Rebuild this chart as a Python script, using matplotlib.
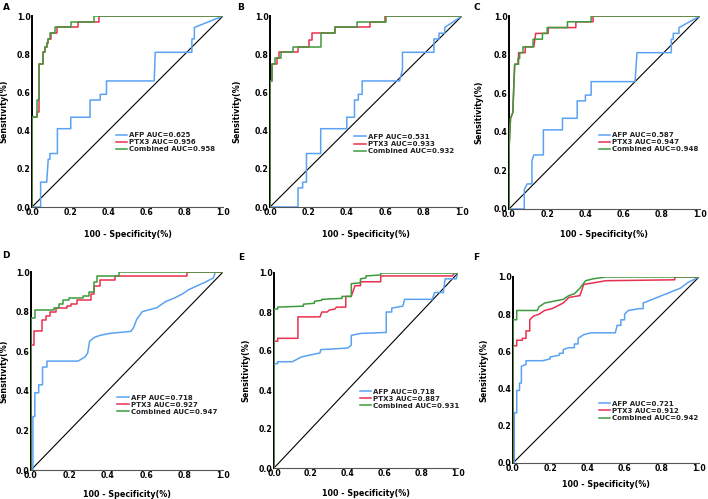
import matplotlib
matplotlib.use("Agg")
import matplotlib.pyplot as plt

plt.rcParams['font.family'] = ['DejaVu Sans']
plt.rcParams['font.weight'] = 'bold'

panel_letters = ["A", "B", "C", "D", "E", "F"]
series_names = ["AFP", "PTX3", "Combined"]
auc_A = [0.625, 0.956, 0.958]
auc_B = [0.531, 0.933, 0.932]
auc_C = [0.587, 0.947, 0.948]
auc_D = [0.718, 0.927, 0.947]
auc_E = [0.718, 0.887, 0.931]
auc_F = [0.721, 0.912, 0.942]
ticks = [0.0, 0.2, 0.4, 0.6, 0.8, 1.0]
tick_labels = ["0.0", "0.2", "0.4", "0.6", "0.8", "1.0"]

# ---------- Panel A ----------
afp_A_x = [0, 0.045, 0.045, 0.077, 0.085, 0.094, 0.094, 0.133, 0.133, 0.203, 0.203, 0.304, 0.304, 0.357, 0.357, 0.39, 0.39, 0.64, 0.645, 0.837, 0.837, 0.85, 0.85, 1.0]
afp_A_y = [0, 0, 0.13, 0.13, 0.25, 0.25, 0.28, 0.28, 0.41, 0.41, 0.47, 0.47, 0.56, 0.56, 0.59, 0.59, 0.66, 0.66, 0.81, 0.81, 0.88, 0.88, 0.94, 1.0]
ptx_A_x = [0, 0, 0.028, 0.028, 0.035, 0.035, 0.038, 0.038, 0.056, 0.056, 0.07, 0.07, 0.077, 0.077, 0.085, 0.085, 0.1, 0.1, 0.13, 0.13, 0.24, 0.24, 0.35, 0.35, 1.0]
ptx_A_y = [0, 0.47, 0.47, 0.5, 0.5, 0.56, 0.56, 0.75, 0.75, 0.81, 0.81, 0.84, 0.84, 0.86, 0.86, 0.88, 0.88, 0.91, 0.91, 0.94, 0.94, 0.97, 0.97, 1.0, 1.0]
com_A_x = [0, 0, 0.024, 0.024, 0.028, 0.028, 0.035, 0.035, 0.056, 0.056, 0.068, 0.068, 0.077, 0.077, 0.085, 0.085, 0.094, 0.094, 0.12, 0.12, 0.203, 0.203, 0.325, 0.325, 1.0]
com_A_y = [0, 0.47, 0.47, 0.5, 0.5, 0.56, 0.56, 0.75, 0.75, 0.81, 0.81, 0.84, 0.84, 0.86, 0.86, 0.88, 0.88, 0.91, 0.91, 0.94, 0.94, 0.97, 0.97, 1.0, 1.0]

# ---------- Panel B ----------
afp_B_x = [0, 0.146, 0.146, 0.17, 0.17, 0.19, 0.19, 0.264, 0.264, 0.40, 0.40, 0.44, 0.44, 0.46, 0.46, 0.48, 0.48, 0.675, 0.69, 0.69, 0.854, 0.854, 0.88, 0.88, 0.91, 0.91, 1.0]
afp_B_y = [0, 0, 0.1, 0.1, 0.13, 0.13, 0.28, 0.28, 0.41, 0.41, 0.47, 0.47, 0.56, 0.56, 0.59, 0.59, 0.66, 0.66, 0.72, 0.81, 0.81, 0.88, 0.88, 0.91, 0.91, 0.94, 1.0]
ptx_B_x = [0, 0, 0.01, 0.01, 0.035, 0.035, 0.045, 0.045, 0.145, 0.145, 0.205, 0.205, 0.22, 0.22, 0.337, 0.337, 0.52, 0.52, 0.6, 0.6, 1.0]
ptx_B_y = [0, 0.66, 0.66, 0.75, 0.75, 0.78, 0.78, 0.81, 0.81, 0.84, 0.84, 0.875, 0.875, 0.91, 0.91, 0.94, 0.94, 0.97, 0.97, 1.0, 1.0]
com_B_x = [0, 0, 0.01, 0.01, 0.024, 0.024, 0.055, 0.055, 0.12, 0.12, 0.264, 0.264, 0.337, 0.337, 0.455, 0.455, 0.604, 0.604, 1.0]
com_B_y = [0, 0.66, 0.66, 0.75, 0.75, 0.78, 0.78, 0.81, 0.81, 0.84, 0.84, 0.91, 0.91, 0.94, 0.94, 0.97, 0.97, 1.0, 1.0]

# ---------- Panel C ----------
afp_C_x = [0, 0.08, 0.08, 0.095, 0.12, 0.12, 0.13, 0.18, 0.18, 0.28, 0.28, 0.357, 0.357, 0.40, 0.40, 0.43, 0.43, 0.66, 0.67, 0.85, 0.85, 0.86, 0.86, 0.89, 0.89, 1.0]
afp_C_y = [0, 0, 0.1, 0.13, 0.13, 0.25, 0.28, 0.28, 0.41, 0.41, 0.47, 0.47, 0.56, 0.56, 0.59, 0.59, 0.66, 0.66, 0.81, 0.81, 0.88, 0.88, 0.91, 0.91, 0.94, 1.0]
ptx_C_x = [0, 0, 0.008, 0.02, 0.026, 0.03, 0.05, 0.05, 0.085, 0.085, 0.13, 0.14, 0.205, 0.205, 0.35, 0.35, 0.44, 0.44, 1.0]
ptx_C_y = [0, 0.31, 0.47, 0.5, 0.66, 0.75, 0.75, 0.81, 0.81, 0.84, 0.84, 0.91, 0.91, 0.94, 0.94, 0.97, 0.97, 1.0, 1.0]
com_C_x = [0, 0, 0.008, 0.02, 0.026, 0.03, 0.047, 0.047, 0.056, 0.056, 0.073, 0.073, 0.126, 0.126, 0.175, 0.175, 0.2, 0.2, 0.306, 0.306, 0.43, 0.43, 1.0]
com_C_y = [0, 0.31, 0.47, 0.5, 0.66, 0.75, 0.75, 0.78, 0.78, 0.81, 0.81, 0.84, 0.84, 0.88, 0.88, 0.91, 0.91, 0.94, 0.94, 0.97, 0.97, 1.0, 1.0]

# ---------- Panel D ----------
afp_D_x = [0, 0.01, 0.01, 0.02, 0.02, 0.04, 0.04, 0.06, 0.06, 0.083, 0.083, 0.245, 0.28, 0.295, 0.305, 0.33, 0.36, 0.41, 0.52, 0.535, 0.55, 0.58, 0.656, 0.7, 0.75, 0.79, 0.82, 0.865, 0.91, 0.95, 0.96, 1.0]
afp_D_y = [0, 0, 0.27, 0.27, 0.39, 0.39, 0.43, 0.43, 0.52, 0.52, 0.55, 0.55, 0.57, 0.59, 0.65, 0.67, 0.68, 0.69, 0.70, 0.72, 0.76, 0.80, 0.82, 0.85, 0.87, 0.89, 0.91, 0.93, 0.95, 0.97, 1.0, 1.0]
ptx_D_x = [0, 0, 0.015, 0.015, 0.057, 0.057, 0.08, 0.08, 0.1, 0.1, 0.13, 0.13, 0.19, 0.19, 0.21, 0.21, 0.24, 0.24, 0.31, 0.31, 0.33, 0.33, 0.36, 0.36, 0.44, 0.44, 0.81, 0.81, 1.0]
ptx_D_y = [0, 0.63, 0.63, 0.70, 0.70, 0.76, 0.76, 0.78, 0.78, 0.8, 0.8, 0.82, 0.82, 0.83, 0.83, 0.84, 0.84, 0.86, 0.86, 0.89, 0.89, 0.93, 0.93, 0.96, 0.96, 0.98, 0.98, 1.0, 1.0]
com_D_x = [0, 0, 0.02, 0.02, 0.12, 0.12, 0.145, 0.145, 0.167, 0.167, 0.2, 0.2, 0.27, 0.27, 0.3, 0.3, 0.33, 0.33, 0.345, 0.345, 0.457, 0.457, 1.0]
com_D_y = [0, 0.77, 0.77, 0.81, 0.81, 0.82, 0.82, 0.84, 0.84, 0.86, 0.86, 0.87, 0.87, 0.88, 0.88, 0.9, 0.9, 0.95, 0.95, 0.98, 0.98, 1.0, 1.0]

# ---------- Panel E ----------
afp_E_x = [0, 0, 0.02, 0.02, 0.1, 0.15, 0.2, 0.25, 0.254, 0.4, 0.42, 0.42, 0.47, 0.6, 0.61, 0.61, 0.64, 0.64, 0.7, 0.71, 0.86, 0.873, 0.92, 0.93, 0.99, 1.0]
afp_E_y = [0, 0.535, 0.535, 0.545, 0.545, 0.57, 0.58, 0.59, 0.607, 0.615, 0.63, 0.68, 0.69, 0.695, 0.695, 0.80, 0.80, 0.82, 0.83, 0.865, 0.865, 0.9, 0.9, 0.97, 0.97, 1.0]
ptx_E_x = [0, 0, 0.02, 0.02, 0.13, 0.13, 0.25, 0.26, 0.29, 0.3, 0.33, 0.34, 0.39, 0.39, 0.42, 0.44, 0.47, 0.47, 0.58, 0.58, 0.97, 0.98, 1.0]
ptx_E_y = [0, 0.65, 0.65, 0.665, 0.665, 0.775, 0.775, 0.8, 0.8, 0.81, 0.815, 0.825, 0.825, 0.88, 0.88, 0.935, 0.935, 0.955, 0.955, 0.985, 0.985, 1.0, 1.0]
com_E_x = [0, 0, 0.02, 0.02, 0.16, 0.16, 0.22, 0.22, 0.26, 0.26, 0.37, 0.37, 0.42, 0.42, 0.47, 0.47, 0.5, 0.5, 0.58, 0.58, 1.0]
com_E_y = [0, 0.815, 0.815, 0.825, 0.83, 0.84, 0.845, 0.855, 0.86, 0.865, 0.87, 0.88, 0.88, 0.945, 0.95, 0.97, 0.975, 0.985, 0.99, 1.0, 1.0]

# ---------- Panel F ----------
afp_F_x = [0, 0.007, 0.007, 0.02, 0.02, 0.035, 0.035, 0.045, 0.045, 0.07, 0.07, 0.16, 0.2, 0.2, 0.25, 0.25, 0.27, 0.27, 0.3, 0.33, 0.33, 0.35, 0.35, 0.38, 0.42, 0.55, 0.56, 0.58, 0.58, 0.6, 0.6, 0.62, 0.68, 0.7, 0.7, 0.75, 0.8, 0.85, 0.9, 0.94, 0.98, 1.0]
afp_F_y = [0, 0, 0.27, 0.27, 0.39, 0.39, 0.43, 0.43, 0.52, 0.53, 0.55, 0.55, 0.56, 0.57, 0.58, 0.59, 0.59, 0.61, 0.62, 0.62, 0.64, 0.64, 0.67, 0.69, 0.70, 0.70, 0.74, 0.74, 0.77, 0.77, 0.80, 0.82, 0.83, 0.83, 0.86, 0.88, 0.90, 0.92, 0.94, 0.97, 0.99, 1.0]
ptx_F_x = [0, 0, 0.02, 0.02, 0.05, 0.05, 0.07, 0.07, 0.09, 0.09, 0.11, 0.14, 0.17, 0.21, 0.27, 0.3, 0.36, 0.37, 0.38, 0.5, 0.87, 0.87, 1.0]
ptx_F_y = [0, 0.63, 0.63, 0.66, 0.66, 0.67, 0.67, 0.71, 0.71, 0.77, 0.79, 0.8, 0.82, 0.83, 0.86, 0.89, 0.9, 0.93, 0.96, 0.98, 0.985, 1.0, 1.0]
com_F_x = [0, 0, 0.02, 0.02, 0.13, 0.14, 0.17, 0.22, 0.27, 0.3, 0.33, 0.36, 0.39, 0.43, 0.5, 1.0]
com_F_y = [0, 0.77, 0.77, 0.82, 0.82, 0.84, 0.86, 0.87, 0.88, 0.9, 0.91, 0.94, 0.98, 0.99, 1.0, 1.0]

colors = ["#5aa2f2", "#e8304f", "#3d9a3d"]

W, H = 708, 499
fig = plt.figure(figsize=(W / 100, H / 100), dpi=100)

# pixel boxes: (x0, x1, ytop, ybottom)
boxes = [(32, 223, 16, 207), (270, 462, 16, 207), (509, 700, 16, 209),
         (31, 223, 272, 470), (274, 458, 273, 468), (513, 699, 277, 463)]
legend_pos = [(0.44, 0.34), (0.44, 0.33), (0.47, 0.345), (0.45, 0.33), (0.465, 0.355), (0.46, 0.28)]
ylab_x = [-0.125, -0.15, -0.136, -0.12, -0.13, -0.134]
xlab_y = [-0.12, -0.12, -0.11, -0.10, -0.11, -0.09]
letter_pos = [(3, 8), (237, 8), (473, 8), (2, 256), (238, 257), (473, 257)]

panels = [
    (afp_A_x, afp_A_y, ptx_A_x, ptx_A_y, com_A_x, com_A_y, auc_A),
    (afp_B_x, afp_B_y, ptx_B_x, ptx_B_y, com_B_x, com_B_y, auc_B),
    (afp_C_x, afp_C_y, ptx_C_x, ptx_C_y, com_C_x, com_C_y, auc_C),
    (afp_D_x, afp_D_y, ptx_D_x, ptx_D_y, com_D_x, com_D_y, auc_D),
    (afp_E_x, afp_E_y, ptx_E_x, ptx_E_y, com_E_x, com_E_y, auc_E),
    (afp_F_x, afp_F_y, ptx_F_x, ptx_F_y, com_F_x, com_F_y, auc_F),
]

for i, (p, box) in enumerate(zip(panels, boxes)):
    x0, x1, yt, yb = box
    ax = fig.add_axes([x0 / W, 1 - yb / H, (x1 - x0) / W, (yb - yt) / H])
    ax.plot([0, 1], [0, 1], color="black", lw=0.8, zorder=1)
    handles = []
    for k in range(3):
        xs, ys = p[2 * k], p[2 * k + 1]
        h, = ax.plot(xs, ys, color=colors[k], lw=1.1, zorder=2 + k,
                     label=f"{series_names[k]} AUC={p[6][k]:.3f}")
        handles.append(h)
    ax.set_xlim(0, 1)
    ax.set_ylim(0, 1)
    ax.set_xticks(ticks)
    ax.set_yticks(ticks)
    ax.set_xticklabels(tick_labels, fontsize=5.6, fontweight='bold')
    ax.set_yticklabels(tick_labels, fontsize=5.6, fontweight='bold')
    ax.tick_params(length=0, pad=1)
    for s in ["top", "right"]:
        ax.spines[s].set_visible(False)
    ax.spines["left"].set_color("black")
    ax.spines["left"].set_linewidth(1.4)
    ax.spines["bottom"].set_color("#555555")
    ax.spines["bottom"].set_linewidth(0.8)
    ax.set_xlabel("100 - Specificity(%)", fontsize=5.8, fontweight='bold')
    ax.set_ylabel("Sensitivity(%)", fontsize=5.8, fontweight='bold')
    ax.xaxis.set_label_coords(0.5, xlab_y[i])
    ax.yaxis.set_label_coords(ylab_x[i], 0.5)
    leg = ax.legend(handles=handles, loc="center left", bbox_to_anchor=legend_pos[i],
                    frameon=False, fontsize=5.0, handlelength=1.6, handletextpad=0.3,
                    labelspacing=0.15, borderpad=0, borderaxespad=0)
    for t in leg.get_texts():
        t.set_fontweight('bold')
        t.set_color('#222222')
    fig.text(letter_pos[i][0] / W, 1 - letter_pos[i][1] / H, panel_letters[i],
             fontsize=6.5, fontweight='bold', ha='left', va='center')

fig.savefig("out.png", dpi=100)
